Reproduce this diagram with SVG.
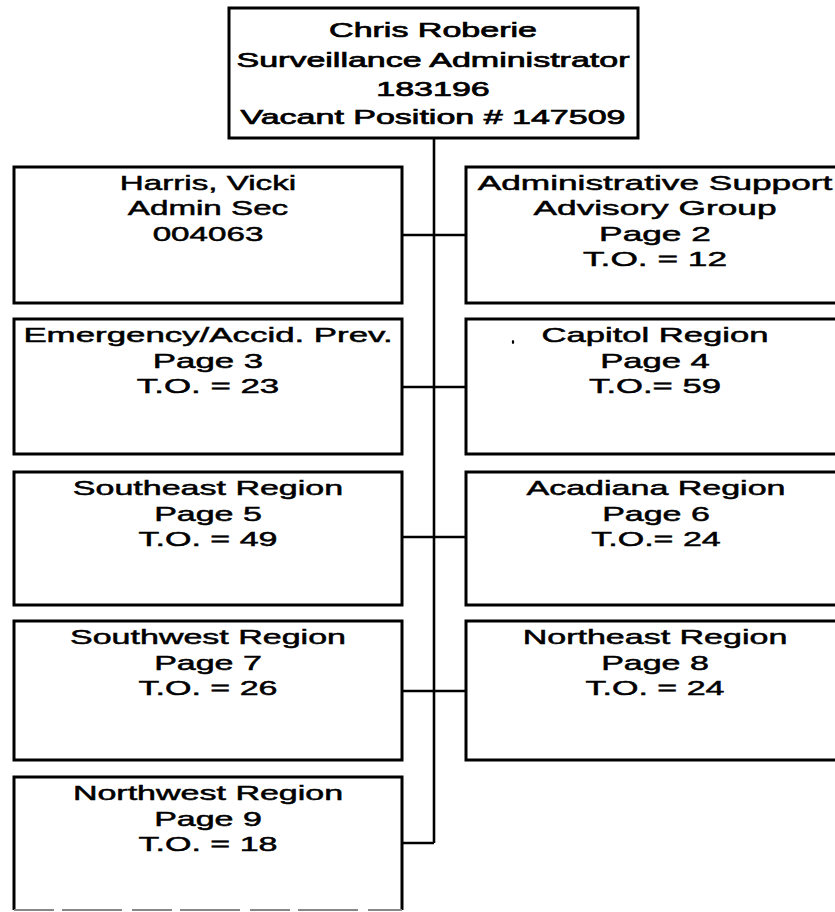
<svg xmlns="http://www.w3.org/2000/svg" width="835" height="912" viewBox="0 0 835 912">
<style>
.box{fill:#fff;stroke:#000;stroke-width:3}
.conn{fill:none;stroke:#000;stroke-width:2.6}
text{font-family:"Liberation Sans",Arial,sans-serif;font-size:21px;fill:#000;text-anchor:middle;stroke:#000;stroke-width:0.5}
.top text{stroke-width:0.7}
</style>
<rect width="835" height="912" fill="#fff"/>
<g id="connectors">
<path class="conn" d="M434 138V843"/>
<path class="conn" d="M402 235H466M402 387H466M402 537H466M402 691H466M402 843H434"/>
</g>
<g id="n-top" class="top">
<rect class="box" x="229" y="8" width="409" height="130"/>
<g transform="translate(433,0) scale(1.62,1)">
<text x="0" y="37">Chris Roberie</text>
<text x="0" y="67">Surveillance Administrator</text>
<text x="0" y="96">183196</text>
<text x="0" y="124">Vacant Position # 147509</text>
</g>
</g>
<g id="n-harris">
<rect class="box" x="14" y="167" width="388" height="136"/>
<g transform="translate(208,0) scale(1.58,1)">
<text x="0" y="190">Harris, Vicki</text>
<text x="0" y="215">Admin Sec</text>
<text x="0" y="241">004063</text>
</g>
</g>
<g id="n-admin">
<rect class="box" x="466" y="167" width="380" height="136"/>
<g transform="translate(655,0) scale(1.68,1)">
<text x="0" y="190">Administrative Support</text>
<text x="0" y="215">Advisory Group</text>
<text x="0" y="241">Page 2</text>
<text x="0" y="266">T.O. = 12</text>
</g>
</g>
<g id="n-emergency">
<rect class="box" x="14" y="319" width="388" height="135"/>
<g transform="translate(208,0) scale(1.66,1)">
<text x="0" y="342">Emergency/Accid. Prev.</text>
<text x="0" y="368">Page 3</text>
<text x="0" y="393">T.O. = 23</text>
</g>
</g>
<g id="n-capitol">
<rect class="box" x="466" y="319" width="380" height="135"/>
<ellipse cx="513" cy="342" rx="1.2" ry="2" fill="#000"/>
<g transform="translate(655,0) scale(1.65,1)">
<text x="0" y="342">Capitol Region</text>
<text x="0" y="368">Page 4</text>
<text x="0" y="393">T.O.= 59</text>
</g>
</g>
<g id="n-southeast">
<rect class="box" x="14" y="472" width="388" height="133"/>
<g transform="translate(208,0) scale(1.62,1)">
<text x="0" y="495">Southeast Region</text>
<text x="0" y="521">Page 5</text>
<text x="0" y="546">T.O. = 49</text>
</g>
</g>
<g id="n-acadiana">
<rect class="box" x="466" y="472" width="380" height="133"/>
<g transform="translate(656,0) scale(1.62,1)">
<text x="0" y="495">Acadiana Region</text>
<text x="0" y="521">Page 6</text>
<text x="0" y="546">T.O.= 24</text>
</g>
</g>
<g id="n-southwest">
<rect class="box" x="14" y="621" width="388" height="139"/>
<g transform="translate(208,0) scale(1.62,1)">
<text x="0" y="644">Southwest Region</text>
<text x="0" y="670">Page 7</text>
<text x="0" y="695">T.O. = 26</text>
</g>
</g>
<g id="n-northeast">
<rect class="box" x="466" y="621" width="380" height="139"/>
<g transform="translate(655,0) scale(1.62,1)">
<text x="0" y="644">Northeast Region</text>
<text x="0" y="670">Page 8</text>
<text x="0" y="695">T.O. = 24</text>
</g>
</g>
<g id="n-northwest">
<path class="box" d="M14 910V777H402V910"/>
<path d="M14 910H402" fill="none" stroke="#888" stroke-width="2" stroke-dasharray="40 8 60 10"/>
<g transform="translate(208,0) scale(1.62,1)">
<text x="0" y="800">Northwest Region</text>
<text x="0" y="826">Page 9</text>
<text x="0" y="851">T.O. = 18</text>
</g>
</g>
</svg>
